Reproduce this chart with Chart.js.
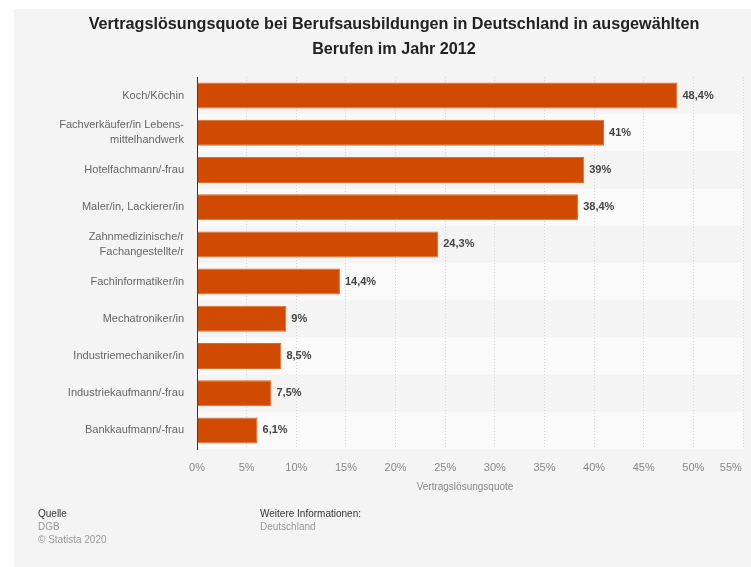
<!DOCTYPE html>
<html>
<head>
<meta charset="utf-8">
<script src="https://cdn.jsdelivr.net/npm/chart.js@4"></script>
<style>
  html, body { margin: 0; padding: 0; background: #fff; }
  #wrap { width: 751px; height: 567px; }
</style>
</head>
<body>
<div id="wrap"><canvas id="chart" width="751" height="567"></canvas></div>
<script>
// data
const categories = [
  'Koch/Köchin',
  ['Fachverkäufer/in Lebens-', 'mittelhandwerk'],
  'Hotelfachmann/-frau',
  'Maler/in, Lackierer/in',
  ['Zahnmedizinische/r', 'Fachangestellte/r'],
  'Fachinformatiker/in',
  'Mechatroniker/in',
  'Industriemechaniker/in',
  'Industriekaufmann/-frau',
  'Bankkaufmann/-frau'
];
const values = [48.4, 41, 39, 38.4, 24.3, 14.4, 9, 8.5, 7.5, 6.1];
const xTickLabels = ['0%', '5%', '10%', '15%', '20%', '25%', '30%', '35%', '40%', '45%', '50%', '55%'];

const titleLines = [
  'Vertragslösungsquote bei Berufsausbildungen in Deutschland in ausgewählten',
  'Berufen im Jahr 2012'
];
const axisTitle = 'Vertragslösungsquote';

const fontFam = '"Liberation Sans", Arial, sans-serif';

const decor = {
  id: 'decor',
  beforeDraw(chart) {
    const ctx = chart.ctx;
    const area = chart.chartArea;
    const y = chart.scales.y;
    ctx.save();
    // grey panel
    ctx.fillStyle = '#f4f4f4';
    ctx.fillRect(14, 9, chart.width - 14, chart.height - 9);
    // alternate row bands
    const step = (area.bottom - area.top) / categories.length;
    for (let i = 0; i < categories.length; i++) {
      if (i % 2 === 1) {
        const c = y.getPixelForValue(i);
        ctx.fillStyle = '#fafafa';
        ctx.fillRect(area.left, c - step / 2, area.right - area.left, step);
      }
    }
    // title
    ctx.fillStyle = '#222';
    ctx.font = 'bold 16.2px ' + fontFam;
    ctx.textAlign = 'center';
    ctx.textBaseline = 'middle';
    ctx.fillText(titleLines[0], 394, 25);
    ctx.fillText(titleLines[1], 394, 50);
    ctx.restore();
  },
  afterDraw(chart) {
    const ctx = chart.ctx;
    ctx.save();
    ctx.textBaseline = 'middle';
    // axis title
    ctx.fillStyle = '#888';
    ctx.font = '10px ' + fontFam;
    ctx.textAlign = 'center';
    ctx.fillText(axisTitle, 465, 487);
    // footer
    ctx.textAlign = 'left';
    ctx.font = '10px ' + fontFam;
    ctx.fillStyle = '#333';
    ctx.fillText('Quelle', 38, 514);
    ctx.fillText('Weitere Informationen:', 260, 514);
    ctx.fillStyle = '#999';
    ctx.fillText('DGB', 38, 527);
    ctx.fillText('© Statista 2020', 38, 540);
    ctx.fillText('Deutschland', 260, 527);
    // value labels
    ctx.fillStyle = '#444';
    ctx.font = 'bold 11px ' + fontFam;
    const meta = chart.getDatasetMeta(0);
    meta.data.forEach((bar, i) => {
      const txt = String(values[i]).replace('.', ',') + '%';
      ctx.fillText(txt, bar.x + 5, bar.y);
    });
    ctx.restore();
  }
};

new Chart(document.getElementById('chart'), {
  type: 'bar',
  data: {
    labels: categories,
    datasets: [{
      data: values,
      backgroundColor: '#d04a02',
      borderColor: '#e46a28',
      borderWidth: 1,
      barPercentage: 0.7,
      categoryPercentage: 1
    }]
  },
  options: {
    indexAxis: 'y',
    responsive: false,
    animation: false,
    layout: { padding: { left: 14, top: 77, right: 8, bottom: 0 } },
    plugins: {
      legend: { display: false },
      tooltip: { enabled: false },
      title: { display: false }
    },
    scales: {
      x: {
        min: 0,
        max: 55,
        afterFit(s) { s.height = 118; s.paddingLeft = 0; s.paddingRight = 0; },
        ticks: {
          stepSize: 5,
          padding: 12,
          color: '#888',
          font: { family: fontFam, size: 11 },
          maxRotation: 0,
          autoSkip: false,
          // last label sits pulled in from the right edge, as in the original
          callback: (v, i) => i === xTickLabels.length - 1 ? xTickLabels[i] + '        ' : xTickLabels[i]
        },
        grid: {
          color: '#d6d6d6',
          drawTicks: false
        },
        border: { display: false, dash: [1, 2] }
      },
      y: {
        afterFit(s) { s.width = 183; },
        ticks: {
          padding: 13,
          color: '#666',
          font: { family: fontFam, size: 11, lineHeight: 1.35 },
          autoSkip: false
        },
        grid: { display: false, drawTicks: false },
        border: { display: true, color: '#333', width: 1 }
      }
    }
  },
  plugins: [decor]
});
</script>
</body>
</html>
